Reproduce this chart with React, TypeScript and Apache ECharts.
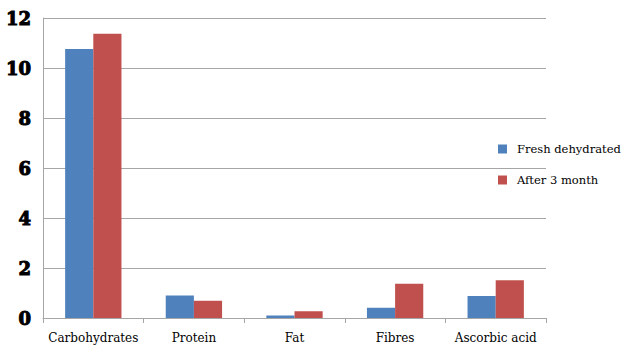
import React, { useEffect, useRef } from "react";
import * as echarts from "echarts";

const categories = ["Carbohydrates", "Protein", "Fat", "Fibres", "Ascorbic acid"];
const freshDehydrated = [10.76, 0.9, 0.1, 0.41, 0.88];
const after3Month = [11.37, 0.69, 0.27, 1.37, 1.51];
const seriesNames = ["Fresh dehydrated", "After 3 month"];

const SERIF = "DejaVu Serif";

export default function App() {
  const ref = useRef<HTMLDivElement>(null);
  useEffect(() => {
    if (!ref.current) return;
    const chart = echarts.init(ref.current, null, { renderer: "svg" });
    chart.setOption({
      animation: false,
      backgroundColor: "#ffffff",
      grid: { left: 43, right: 80, top: 18, bottom: 29 },
      legend: {
        orient: "vertical",
        left: 493,
        top: 138,
        itemWidth: 9,
        itemHeight: 9,
        itemGap: 19,
        icon: "rect",
        textStyle: { fontFamily: SERIF, fontSize: 11.5, color: "#000", padding: [0, 0, 0, 5] },
        data: seriesNames,
      },
      xAxis: {
        type: "category",
        data: categories,
        axisLine: { lineStyle: { color: "#a6a6a6" } },
        axisTick: { show: true, length: 5, lineStyle: { color: "#a6a6a6" } },
        axisLabel: {
          fontFamily: SERIF,
          fontSize: 12,
          color: "#000",
          margin: 14,
          interval: 0,
        },
      },
      yAxis: {
        type: "value",
        min: 0,
        max: 12,
        interval: 2,
        axisLine: { show: true, lineStyle: { color: "#a6a6a6" } },
        axisTick: { show: false },
        splitLine: { lineStyle: { color: "#a6a6a6" } },
        axisLabel: {
          fontFamily: SERIF,
          fontWeight: "bold",
          fontSize: 18,
          color: "#000",
          textBorderColor: "#000",
          textBorderWidth: 1,
          margin: 12,
        },
      },
      series: [
        {
          name: seriesNames[0],
          type: "bar",
          data: freshDehydrated,
          itemStyle: { color: "#4F81BD" },
          barGap: "0%",
          barCategoryGap: "44%",
        },
        {
          name: seriesNames[1],
          type: "bar",
          data: after3Month,
          itemStyle: { color: "#C0504D" },
          barGap: "0%",
          barCategoryGap: "44%",
        },
      ],
    });
    return () => chart.dispose();
  }, []);
  return <div ref={ref} style={{ width: 626, height: 347, position: "absolute", left: 0, top: 0 }} />;
}
